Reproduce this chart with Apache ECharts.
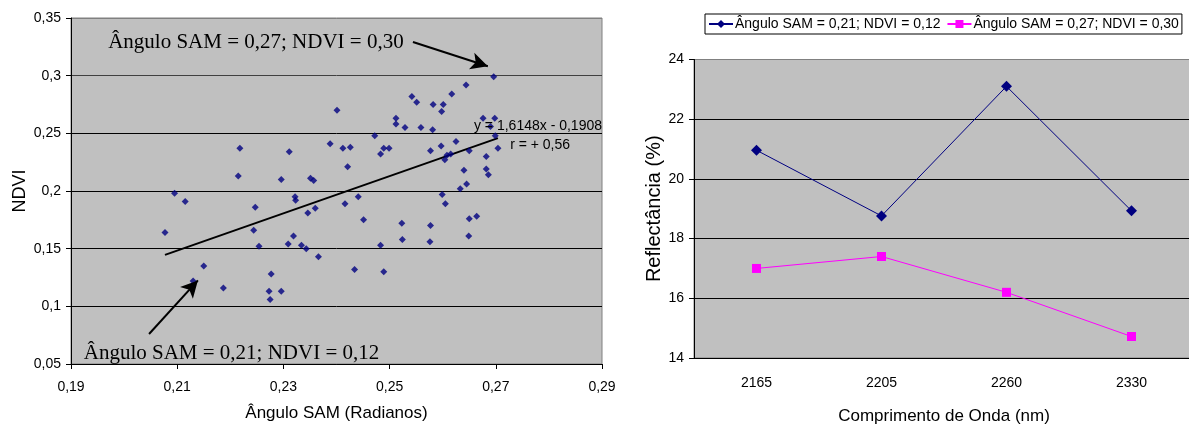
<!DOCTYPE html>
<html>
<head>
<meta charset="utf-8">
<script src="https://cdn.jsdelivr.net/npm/echarts@6/dist/echarts.min.js"></script>
<style>
html,body{margin:0;padding:0;background:#fff;}
#chart{width:1189px;height:428px;}
</style>
</head>
<body>
<div id="chart"></div>
<script>
// ---------- Left chart: scatter of SAM angle vs NDVI ----------
const samAngle = [0.2077,0.2095,0.2115,0.2130,0.2150,0.2187,0.2218,0.2215,0.2247,0.2244,
  0.2254,0.2277,0.2273,0.2275,0.2296,0.2296,0.2311,0.2309,0.2319,0.2322,
  0.2323,0.2334,0.2343,0.2346,0.2351,0.2357,0.2360,0.2366,0.2388,0.2401,
  0.2412,0.2416,0.2421,0.2426,0.2434,0.2441,0.2451,0.2472,0.2483,0.2483,
  0.2489,0.2489,0.2499,0.2512,0.2512,0.2523,0.2524,0.2529,0.2542,0.2551,
  0.2559,0.2577,0.2577,0.2576,0.2582,0.2581,0.2598,0.2601,0.2597,0.2599,
  0.2604,0.2605,0.2608,0.2615,0.2617,0.2625,0.2633,0.2640,0.2644,0.2645,
  0.2649,0.2650,0.2650,0.2664,0.2676,0.2682,0.2682,0.2686,0.2690,0.2696,
  0.2698,0.2699,0.2704];
const ndvi = [0.164,0.198,0.191,0.122,0.135,0.116,0.237,0.213,0.186,0.166,
  0.152,0.128,0.113,0.106,0.113,0.210,0.234,0.154,0.161,0.195,
  0.192,0.153,0.150,0.181,0.211,0.209,0.185,0.143,0.241,0.270,
  0.237,0.189,0.221,0.238,0.132,0.195,0.175,0.248,0.232,0.153,
  0.237,0.130,0.237,0.263,0.258,0.172,0.158,0.255,0.282,0.277,
  0.255,0.235,0.170,0.156,0.275,0.253,0.269,0.275,0.239,0.197,
  0.227,0.189,0.231,0.232,0.284,0.243,0.202,0.218,0.292,0.206,
  0.161,0.235,0.176,0.178,0.263,0.219,0.230,0.214,0.256,0.299,
  0.263,0.248,0.237];
const trendSlope = 1.6148;
const trendIntercept = -0.1908;
const equationText = 'y = 1,6148x - 0,1908';
const rText = 'r = + 0,56';
const noteHigh = 'Ângulo SAM = 0,27; NDVI = 0,30';
const noteLow = 'Ângulo SAM = 0,21; NDVI = 0,12';
// arrow endpoints in data units [from, to]
const arrowHigh = [[0.2544, 0.3292], [0.2685, 0.3082]];
const arrowLow = [[0.2047, 0.0760], [0.2139, 0.1225]];
// text anchors in data units
const noteHighPos = [0.1970, 0.3292];
const noteLowPos = [0.1924, 0.0595];
const equationPos = [0.2900, 0.2564];
const rPos = [0.2727, 0.2399];

// ---------- Right chart: reflectance by wavelength ----------
const wavelengths = ['2165', '2205', '2260', '2330'];
const seriesLowName = 'Ângulo SAM = 0,21; NDVI = 0,12';
const seriesHighName = 'Ângulo SAM = 0,27; NDVI = 0,30';
const reflLow = [20.96, 18.76, 23.10, 18.93];
const reflHigh = [17.00, 17.40, 16.20, 14.72];

const SANS = "'Liberation Sans', Arial, sans-serif";
const SERIF = "'Liberation Serif', 'Times New Roman', serif";

function comma(v, d) {
  return String(+v.toFixed(d)).replace('.', ',');
}

const xMin = Math.min(...samAngle), xMax = Math.max(...samAngle);
const trendData = [[xMin, trendSlope * xMin + trendIntercept], [xMax, trendSlope * xMax + trendIntercept]];

const chart = echarts.init(document.getElementById('chart'), null, {renderer: 'canvas'});

function arrowPair(a) {
  return [
    {coord: a[0], symbol: 'none', symbolSize: 0},
    {coord: a[1], symbol: 'arrow', symbolSize: [13, 17]}
  ];
}

const option = {
  animation: false,
  backgroundColor: '#ffffff',
  textStyle: {fontFamily: SANS},
  grid: [
    {left: 71, top: 18, width: 531, height: 346, show: true, backgroundColor: '#C0C0C0', borderColor: '#808080', borderWidth: 1, containLabel: false, outerBoundsMode: 'none'},
    {left: 694, top: 59.5, width: 500, height: 298.5, show: true, backgroundColor: '#C0C0C0', borderColor: '#808080', borderWidth: 1, containLabel: false, outerBoundsMode: 'none'}
  ],
  legend: {
    show: true,
    left: 705, top: 14,
    width: 480,
    padding: [3, 3, 3, 3],
    itemGap: 6,
    itemWidth: 24, itemHeight: 10,
    borderColor: '#000', borderWidth: 1,
    backgroundColor: '#fff',
    textStyle: {fontFamily: SANS, fontSize: 14, color: '#000', padding: [0, 0, 0, -3]},
    data: [seriesLowName, seriesHighName]
  },
  xAxis: [
    {
      type: 'value', gridIndex: 0, min: 0.19, max: 0.29, interval: 0.02,
      name: 'Ângulo SAM (Radianos)', nameLocation: 'middle', nameGap: 41,
      nameTextStyle: {fontFamily: SANS, fontSize: 17, color: '#000'},
      axisLine: {show: true, onZero: false, lineStyle: {color: '#000', width: 1}},
      axisTick: {show: true, inside: false, length: 5, lineStyle: {color: '#000'}},
      axisLabel: {fontFamily: SANS, fontSize: 14, color: '#000', margin: 16, formatter: v => comma(v, 2)},
      splitLine: {show: false}
    },
    {
      type: 'category', gridIndex: 1, data: wavelengths, boundaryGap: true,
      name: 'Comprimento de Onda (nm)', nameLocation: 'middle', nameGap: 50,
      nameTextStyle: {fontFamily: SANS, fontSize: 17, color: '#000'},
      axisLine: {show: true, lineStyle: {color: '#000', width: 1}},
      axisTick: {show: false},
      axisLabel: {fontFamily: SANS, fontSize: 14, color: '#000', margin: 18},
      splitLine: {show: false}
    }
  ],
  yAxis: [
    {
      type: 'value', gridIndex: 0, min: 0.05, max: 0.35, interval: 0.05,
      name: 'NDVI', nameLocation: 'middle', nameGap: 42, nameRotate: 90,
      nameTextStyle: {fontFamily: SANS, fontSize: 18, color: '#000'},
      axisLine: {show: true, onZero: false, lineStyle: {color: '#000', width: 1}},
      axisTick: {show: true, inside: false, length: 5, lineStyle: {color: '#000'}},
      axisLabel: {fontFamily: SANS, fontSize: 14, color: '#000', margin: 10, formatter: v => comma(v, 2)},
      splitLine: {show: true, lineStyle: {color: ['#000', '#000', '#000', '#000', '#000', '#404040', '#808080'], width: 1}}
    },
    {
      type: 'value', gridIndex: 1, min: 14, max: 24, interval: 2,
      name: 'Reflectância (%)', nameLocation: 'middle', nameGap: 29, nameRotate: 90,
      nameTextStyle: {fontFamily: SANS, fontSize: 20, color: '#000'},
      axisLine: {show: true, lineStyle: {color: '#000', width: 1}},
      axisTick: {show: true, inside: false, length: 5, lineStyle: {color: '#000'}},
      axisLabel: {fontFamily: SANS, fontSize: 14, color: '#000', margin: 10},
      splitLine: {show: true, lineStyle: {color: ['#000', '#000', '#000', '#000', '#000', '#808080'], width: 1}}
    }
  ],
  series: [
    {
      name: 'pontos', type: 'scatter', xAxisIndex: 0, yAxisIndex: 0,
      symbol: 'diamond', symbolSize: 7,
      itemStyle: {color: '#000080'},
      data: samAngle.map((x, i) => [x, ndvi[i]]),
      markLine: {
        silent: true,
        symbol: ['none', 'arrow'],
        symbolSize: 16,
        precision: 4,
        lineStyle: {color: '#000', width: 2, type: 'solid'},
        itemStyle: {color: '#000'},
        label: {show: false},
        emphasis: {disabled: true},
        data: [arrowPair(arrowHigh), arrowPair(arrowLow)]
      },
      z: 3
    },
    {
      name: 'tendência', type: 'line', xAxisIndex: 0, yAxisIndex: 0,
      data: trendData, symbol: 'none',
      lineStyle: {color: '#000', width: 2}, z: 2
    },
    {
      name: seriesLowName, type: 'line', xAxisIndex: 1, yAxisIndex: 1,
      data: reflLow, symbol: 'diamond', symbolSize: 11,
      lineStyle: {color: '#000080', width: 1},
      itemStyle: {color: '#000080'}
    },
    {
      name: seriesHighName, type: 'line', xAxisIndex: 1, yAxisIndex: 1,
      data: reflHigh, symbol: 'rect', symbolSize: 9,
      lineStyle: {color: '#FF00FF', width: 1},
      itemStyle: {color: '#FF00FF'}
    }
  ]
};

chart.setOption(option);

function px(p) { return chart.convertToPixel({gridIndex: 0}, p); }
const hp = px(noteHighPos), lp = px(noteLowPos), ep = px(equationPos), rp = px(rPos);
chart.setOption({
  graphic: [
    {type: 'text', x: hp[0], y: hp[1], z: 10, style: {text: noteHigh, font: '21px ' + SERIF, fill: '#000', align: 'left', verticalAlign: 'middle'}},
    {type: 'text', x: lp[0], y: lp[1], z: 10, style: {text: noteLow, font: '21px ' + SERIF, fill: '#000', align: 'left', verticalAlign: 'middle'}},
    {type: 'text', x: ep[0], y: ep[1], z: 10, style: {text: equationText, font: '14px ' + SANS, fill: '#000', align: 'right', verticalAlign: 'middle'}},
    {type: 'text', x: rp[0], y: rp[1], z: 10, style: {text: rText, font: '14px ' + SANS, fill: '#000', align: 'left', verticalAlign: 'middle'}}
  ]
});
</script>
</body>
</html>
